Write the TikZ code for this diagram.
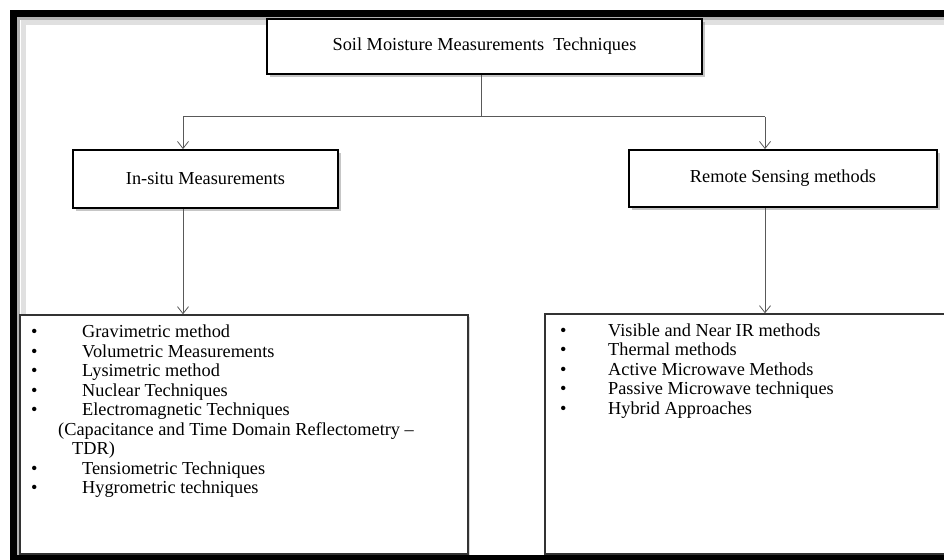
\documentclass[tikz,border=0pt]{standalone}
\usepackage{fontspec}
\setmainfont{Liberation Serif}
\usetikzlibrary{arrows.meta,shadows}

\begin{document}
\begin{tikzpicture}[x=1pt,y=-1pt,
    box/.style={draw=black, line width=1.8pt, fill=white, inner sep=0pt,
        drop shadow={shadow xshift=3pt, shadow yshift=-3pt, fill=black!50, opacity=0.45},
        font=\fontsize{18.3}{19.5}\selectfont},
    listbox/.style={draw=black!80, line width=1.4pt, fill=white, inner sep=0pt,
        drop shadow={shadow xshift=2pt, shadow yshift=-2pt, fill=black!40, opacity=0.4}},
    listtext/.style={anchor=north west, inner sep=0pt, align=left,
        font=\fontsize{18.3}{19.5}\selectfont},
    conn/.style={draw=black!65, line width=1pt},
    arr/.style={-{Straight Barb[length=7pt,width=11pt,line width=0.8pt]}}]
        \useasboundingbox (0,0) rectangle (944,559);
        % shading inside the frame
        \draw[black!12, line width=5pt] (23,559) -- (23,23) -- (944,23);
        \draw[black!30, line width=3pt] (18.5,559) -- (18.5,18.5) -- (944,18.5);
        % boxes
        \node[box, minimum width=435pt, minimum height=55pt] (soil) at (484.5,46.5)
            {Soil Moisture Measurements~ Techniques};
        \node[box, minimum width=265pt, minimum height=58pt] (insitu) at (205.5,179)
            {In-situ Measurements};
        \node[box, minimum width=308pt, minimum height=57pt] (remote) at (783,178.5)
            {Remote Sensing methods};
        \node[listbox, minimum width=448pt, minimum height=239pt] (insitulist) at (244,434.5) {};
        \node[listbox, minimum width=410pt, minimum height=240pt] (remotelist) at (750,434) {};
        % list texts
        \node[listtext] (insitutext) at (31,325) {%
            \makebox[51pt][l]{\textbullet}Gravimetric method\\
            \makebox[51pt][l]{\textbullet}Volumetric Measurements\\
            \makebox[51pt][l]{\textbullet}Lysimetric method\\
            \makebox[51pt][l]{\textbullet}Nuclear Techniques\\
            \makebox[51pt][l]{\textbullet}Electromagnetic Techniques\\
            \hspace*{27pt}(Capacitance and Time Domain Reflectometry --\\
            \hspace*{41pt}TDR)\\
            \makebox[51pt][l]{\textbullet}Tensiometric Techniques\\
            \makebox[51pt][l]{\textbullet}Hygrometric techniques};
        \node[listtext] (remotetext) at (560,323.5) {%
            \makebox[48pt][l]{\textbullet}Visible and Near IR methods\\
            \makebox[48pt][l]{\textbullet}Thermal methods\\
            \makebox[48pt][l]{\textbullet}Active Microwave Methods\\
            \makebox[48pt][l]{\textbullet}Passive Microwave techniques\\
            \makebox[48pt][l]{\textbullet}Hybrid Approaches};
        % connectors
        \coordinate (fork) at (481,117);
        \coordinate (lcol) at (183,117);
        \coordinate (rcol) at (765,117);
        \draw[conn] (soil.south -| fork) -- (fork);
        \draw[conn] (lcol) -- (rcol);
        \draw[conn, arr] (lcol) -- (lcol |- insitu.north);
        \draw[conn, arr] (rcol) -- (rcol |- remote.north);
        \draw[conn, arr] (lcol |- insitu.south) -- (lcol |- insitulist.north);
        \draw[conn, arr] (rcol |- remote.south) -- (rcol |- remotelist.north);
        % outer frame
        \draw[black, line width=7pt] (13.5,13.5) rectangle (960,558);
\end{tikzpicture}
\end{document}
